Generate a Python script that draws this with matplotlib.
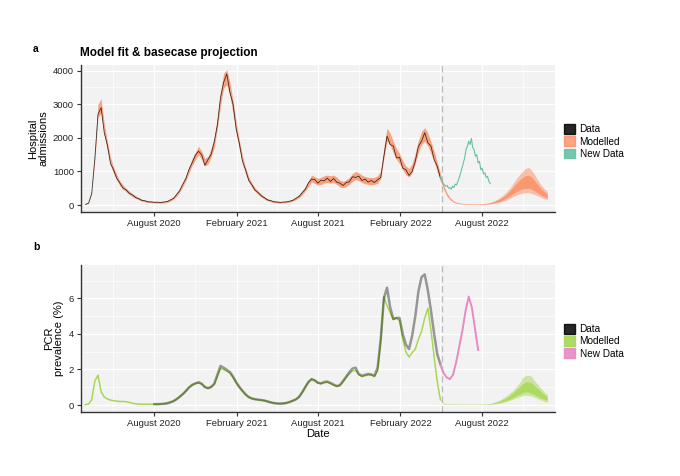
import matplotlib
matplotlib.use('Agg')
import matplotlib.pyplot as plt
import matplotlib.dates as mdates
from matplotlib.patches import Patch
import numpy as np
import pandas as pd

plt.rcParams['font.family'] = ['Liberation Sans', 'DejaVu Sans']

# weekly dates for the fitting period
fit_dates = pd.date_range('2020-03-01', periods=114, freq='7D')

# hospital admissions - data
adm_data = [20, 55, 340, 1380, 2700, 2900, 2150, 1780, 1230, 1040,
            790, 650, 500, 450, 345, 300, 220, 190, 135, 125,
            95, 92, 82, 84, 78, 90, 100, 150, 195, 310,
            425, 620, 790, 1070, 1260, 1480, 1600, 1500, 1180, 1350,
            1500, 1880, 2380, 3200, 3650, 3900, 3350, 3000, 2250, 1830,
            1300, 1040, 730, 600, 440, 370, 270, 215, 150, 130,
            95, 90, 78, 88, 92, 115, 140, 200, 255, 370,
            470, 660, 770, 760, 650, 740, 720, 800, 700, 790,
            680, 650, 580, 670, 690, 840, 820, 860, 730, 770,
            680, 730, 670, 750, 820, 1450, 2050, 1800, 1750, 1400,
            1420, 1100, 1050, 880, 1000, 1300, 1750, 1900, 2150, 1850,
            1750, 1350, 1150, 800]

# hospital admissions - model fit (median) and half width of interval
adm_fit = [20, 70, 380, 1450, 2800, 2950, 2250, 1750, 1300, 1020,
           820, 640, 530, 440, 360, 290, 235, 185, 145, 120,
           100, 90, 85, 82, 82, 88, 105, 145, 205, 305,
           440, 610, 810, 1050, 1290, 1460, 1620, 1480, 1270, 1330,
           1560, 1850, 2450, 3150, 3700, 3800, 3450, 2900, 2300, 1780,
           1350, 1010, 760, 580, 460, 360, 280, 210, 160, 125,
           100, 88, 82, 86, 96, 112, 145, 195, 265, 360,
           490, 640, 790, 740, 690, 720, 760, 780, 760, 780,
           720, 640, 610, 650, 720, 820, 880, 840, 780, 740,
           720, 710, 720, 760, 900, 1550, 2100, 1950, 1720, 1520,
           1380, 1180, 1030, 960, 1100, 1400, 1750, 2000, 2100, 1950,
           1700, 1450, 1120, 820]
adm_fit_hw = [10, 15, 40, 110, 200, 210, 170, 140, 110, 95,
              80, 70, 60, 55, 50, 45, 40, 35, 30, 28,
              26, 25, 25, 25, 25, 26, 28, 32, 38, 45,
              55, 65, 75, 90, 105, 115, 125, 120, 110, 115,
              125, 140, 170, 200, 220, 225, 210, 190, 165, 140,
              115, 95, 80, 65, 55, 48, 42, 36, 32, 28,
              26, 25, 25, 25, 26, 28, 32, 38, 45, 55,
              70, 85, 100, 100, 100, 105, 110, 110, 110, 110,
              105, 100, 95, 100, 105, 115, 120, 115, 110, 108,
              105, 105, 105, 110, 120, 160, 190, 180, 170, 160,
              150, 140, 130, 125, 135, 155, 175, 190, 200, 190,
              175, 160, 140, 120]

# hospital admissions - new data after cut-off
adm_new_dates = pd.date_range('2022-05-01', periods=38, freq='3D')
adm_new = [850, 700, 640, 600, 560, 580, 500, 520, 470, 560,
           520, 620, 600, 700, 820, 950, 1100, 1250, 1400, 1650,
           1750, 1900, 1800, 1980, 1700, 1650, 1450, 1500, 1250, 1300,
           1050, 1100, 920, 960, 820, 850, 700, 640]

# projections (weekly)
proj_dates = pd.date_range('2022-05-01', periods=35, freq='7D')
adm_hi90 = [950, 620, 380, 230, 140, 90, 65, 50, 42, 38, 36, 36, 38, 42, 50,
            62, 85, 120, 170, 230, 300, 390, 490, 620, 760, 880, 990, 1080,
            1120, 1040, 900, 740, 600, 490, 410]
adm_hi50 = [880, 570, 350, 210, 130, 82, 58, 45, 38, 34, 32, 32, 34, 37, 44,
            54, 72, 100, 140, 190, 250, 320, 410, 520, 630, 730, 810, 870,
            890, 830, 720, 600, 490, 400, 330]
adm_lo50 = [780, 500, 300, 175, 105, 65, 45, 34, 28, 25, 23, 23, 24, 26, 30,
            36, 45, 62, 85, 115, 160, 210, 270, 330, 390, 440, 475, 495,
            500, 470, 420, 360, 300, 250, 215]
adm_lo90 = [720, 460, 270, 155, 92, 56, 38, 29, 24, 21, 19, 19, 20, 21, 24,
            28, 35, 48, 65, 85, 115, 150, 195, 245, 290, 325, 350, 365,
            365, 345, 310, 275, 230, 190, 160]

# PCR prevalence - model fit
pcr_fit = [0.02, 0.06, 0.3, 1.35, 1.68, 0.75, 0.45, 0.34, 0.28, 0.24,
           0.22, 0.2, 0.2, 0.19, 0.15, 0.1, 0.07, 0.06, 0.05, 0.05,
           0.05, 0.05, 0.05, 0.05, 0.06, 0.07, 0.1, 0.15, 0.22, 0.32,
           0.45, 0.6, 0.78, 0.98, 1.12, 1.2, 1.25, 1.18, 1.0, 0.94,
           1.0, 1.15, 1.6, 2.05, 2.0, 1.9, 1.8, 1.55, 1.25, 1.0,
           0.78, 0.58, 0.44, 0.36, 0.32, 0.3, 0.28, 0.25, 0.2, 0.15,
           0.11, 0.09, 0.08, 0.09, 0.12, 0.18, 0.25, 0.32, 0.45, 0.7,
           1.0, 1.3, 1.48, 1.4, 1.25, 1.2, 1.25, 1.28, 1.2, 1.12,
           1.05, 1.1, 1.3, 1.55, 1.75, 1.92, 1.95, 1.7, 1.6, 1.65,
           1.7, 1.68, 1.6, 1.9, 3.6, 6.1, 5.6, 5.2, 4.8, 4.9,
           4.75, 3.7, 3.0, 2.7, 2.95, 3.15, 3.7, 4.15, 4.9, 5.45,
           4.2, 2.7, 1.3, 0.3]

# PCR prevalence - survey data
pcr_data_dates = pd.date_range('2020-08-02', periods=92, freq='7D')
pcr_data = [0.05, 0.05, 0.06, 0.07, 0.1, 0.15, 0.22,
            0.33, 0.47, 0.62, 0.8, 1.0, 1.14, 1.22, 1.28, 1.2, 1.02,
            0.95, 1.02, 1.2, 1.7, 2.2, 2.1, 1.98, 1.85, 1.6, 1.28,
            1.02, 0.8, 0.6, 0.45, 0.37, 0.33, 0.3, 0.28, 0.25, 0.2,
            0.15, 0.11, 0.09, 0.08, 0.09, 0.12, 0.17, 0.24, 0.32, 0.46,
            0.72, 1.02, 1.3, 1.45, 1.38, 1.25, 1.22, 1.3, 1.32, 1.25,
            1.15, 1.07, 1.12, 1.35, 1.6, 1.85, 2.05, 2.1, 1.75, 1.65,
            1.7, 1.75, 1.72, 1.65, 2.1, 3.7, 6.0, 6.6, 5.5, 4.85,
            4.9, 4.9, 4.0, 3.4, 3.15, 3.9, 5.0, 6.4, 7.2, 7.35,
            6.45, 5.3, 4.0, 2.85, 2.3]

pcr_new_dates = pd.date_range('2022-05-01', periods=13, freq='7D')
pcr_new = [2.25, 1.8, 1.55, 1.46, 1.7, 2.4, 3.3, 4.2, 5.3, 6.1, 5.5, 4.3, 3.1]

pcr_hi90 = [0.35, 0.12, 0.07, 0.06, 0.06, 0.05, 0.05, 0.05, 0.05, 0.05, 0.05,
            0.05, 0.05, 0.05, 0.06, 0.07, 0.1, 0.15, 0.22, 0.3, 0.4, 0.52,
            0.66, 0.82, 1.0, 1.2, 1.5, 1.66, 1.68, 1.62, 1.35, 1.15, 0.95,
            0.75, 0.6]
pcr_hi50 = [0.32, 0.1, 0.06, 0.05, 0.05, 0.05, 0.05, 0.05, 0.05, 0.05, 0.05,
            0.05, 0.05, 0.05, 0.05, 0.06, 0.08, 0.12, 0.17, 0.24, 0.32, 0.42,
            0.54, 0.68, 0.84, 1.0, 1.18, 1.3, 1.3, 1.25, 1.08, 0.92, 0.76,
            0.6, 0.47]
pcr_lo50 = [0.28, 0.08, 0.05, 0.04, 0.04, 0.04, 0.04, 0.04, 0.04, 0.04, 0.04,
            0.04, 0.04, 0.04, 0.04, 0.05, 0.06, 0.08, 0.11, 0.15, 0.2, 0.26,
            0.33, 0.42, 0.51, 0.6, 0.68, 0.74, 0.72, 0.66, 0.57, 0.48, 0.4,
            0.32, 0.26]
pcr_lo90 = [0.25, 0.07, 0.04, 0.03, 0.03, 0.03, 0.03, 0.03, 0.03, 0.03, 0.03,
            0.03, 0.03, 0.03, 0.03, 0.04, 0.05, 0.06, 0.08, 0.11, 0.15, 0.2,
            0.26, 0.32, 0.39, 0.46, 0.52, 0.56, 0.55, 0.5, 0.43, 0.35, 0.28,
            0.2, 0.14]

cutoff = pd.Timestamp('2022-05-05')

orange = '#FC8D62'
teal = '#66C2A5'
green = '#A6D854'
pink = '#E78AC3'

fig = plt.figure(figsize=(6.8, 4.76), dpi=100)
ax1 = fig.add_axes([0.119, 0.5546, 0.697, 0.309])
ax2 = fig.add_axes([0.119, 0.135, 0.697, 0.308])


def style(ax):
    ax.set_facecolor('#f2f2f2')
    for s in ['top', 'right']:
        ax.spines[s].set_visible(False)
    for s in ['left', 'bottom']:
        ax.spines[s].set_color('#333333')
        ax.spines[s].set_linewidth(1.0)
    ax.xaxis.set_major_locator(mdates.MonthLocator(bymonth=[2, 8]))
    ax.xaxis.set_minor_locator(mdates.MonthLocator(bymonth=[5, 11]))
    ax.xaxis.set_major_formatter(mdates.DateFormatter('%B %Y'))
    ax.grid(which='major', color='white', lw=0.9)
    ax.grid(which='minor', color='white', lw=0.45)
    ax.set_axisbelow(True)
    ax.tick_params(which='major', length=3, width=0.8, color='#333333',
                   labelsize=6.8, labelcolor='#222222', pad=2)
    ax.tick_params(which='minor', length=0)
    ax.set_xlim(pd.Timestamp('2020-02-20'), pd.Timestamp('2023-01-11'))
    ax.axvline(cutoff, color='#bbbbbb', lw=0.9, ls=(0, (5, 3)), zorder=1)


style(ax1)
style(ax2)

# top panel
lo = np.array(adm_fit) - np.array(adm_fit_hw)
hi = np.array(adm_fit) + np.array(adm_fit_hw)
ax1.fill_between(fit_dates, lo, hi, color=orange, alpha=0.8, lw=0, zorder=2)
ax1.plot(fit_dates, adm_data, color='black', lw=0.55, alpha=0.8, zorder=3)
ax1.plot(adm_new_dates, adm_new, color=teal, lw=0.8, zorder=3)
ax1.fill_between(proj_dates, adm_lo90, adm_hi90, color=orange, alpha=0.5, lw=0, zorder=2)
ax1.fill_between(proj_dates, adm_lo50, adm_hi50, color=orange, alpha=0.8, lw=0, zorder=2)
ax1.set_ylim(-208, 4167)
ax1.set_yticks([0, 1000, 2000, 3000, 4000])
ax1.set_yticks([500, 1500, 2500, 3500], minor=True)
ax1.set_ylabel('Hospital\nadmissions', fontsize=8, linespacing=1.1, labelpad=3)

# bottom panel
ax2.plot(fit_dates, pcr_fit, color=green, lw=1.1, zorder=2)
ax2.plot(pcr_data_dates, pcr_data, color='black', lw=1.8, alpha=0.38, zorder=3)
ax2.plot(pcr_new_dates, pcr_new, color=pink, lw=1.4, zorder=3)
ax2.fill_between(proj_dates, pcr_lo90, pcr_hi90, color=green, alpha=0.5, lw=0, zorder=2)
ax2.fill_between(proj_dates, pcr_lo50, pcr_hi50, color=green, alpha=0.8, lw=0, zorder=2)
ax2.set_ylim(-0.376, 7.87)
ax2.set_yticks([0, 2, 4, 6])
ax2.set_yticks([1, 3, 5, 7], minor=True)
ax2.set_ylabel('PCR\nprevalence (%)', fontsize=8, linespacing=1.1, labelpad=3)
ax2.set_xlabel('Date', fontsize=8, labelpad=1)

# legends
leg_kw = dict(loc='center left', bbox_to_anchor=(1.01, 0.48), frameon=False,
              fontsize=7.2, handlelength=1.1, handleheight=1.1,
              labelspacing=0.2, handletextpad=0.5, borderaxespad=0)
ax1.legend(handles=[Patch(color='black', alpha=0.85, label='Data'),
                    Patch(color=orange, alpha=0.8, label='Modelled'),
                    Patch(color=teal, alpha=0.9, label='New Data')], **leg_kw)
ax2.legend(handles=[Patch(color='black', alpha=0.85, label='Data'),
                    Patch(color=green, alpha=0.9, label='Modelled'),
                    Patch(color=pink, alpha=0.9, label='New Data')], **leg_kw)

fig.text(80 / 680, 1 - 53 / 476, 'Model fit & basecase projection',
         fontsize=8.5, weight='bold', ha='left', va='center')
fig.text(33 / 680, 1 - 49 / 476, 'a', fontsize=7.5, weight='bold', ha='left', va='center')
fig.text(33 / 680, 1 - 247 / 476, 'b', fontsize=7.5, weight='bold', ha='left', va='center')

fig.savefig('out.png', dpi=100)
